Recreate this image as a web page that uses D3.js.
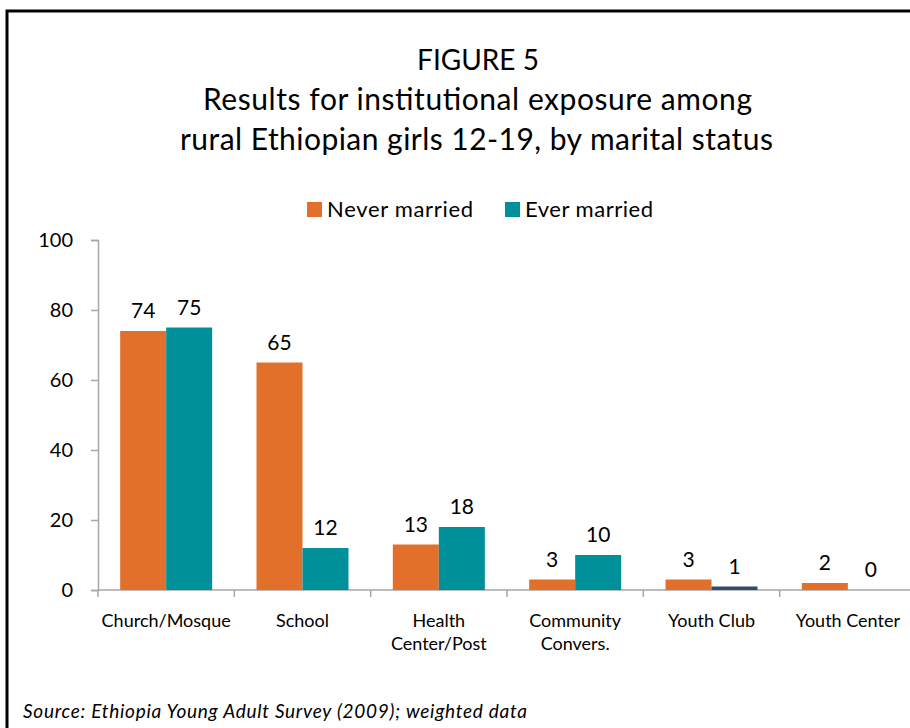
<!DOCTYPE html>
<html><head><meta charset="utf-8">
<script src="https://cdn.jsdelivr.net/npm/d3@7"></script>
<style>body{margin:0;background:#fff;} svg{display:block;}</style>
</head><body>
<svg id="c" width="910" height="728"></svg>
<script>
const categories = [["Church/Mosque"], ["School"], ["Health", "Center/Post"], ["Community", "Convers."], ["Youth Club"], ["Youth Center"]];
const seriesNames = ["Never married", "Ever married"];
const neverMarried = [74, 65, 13, 3, 3, 2];
const everMarried = [75, 12, 18, 10, 1, 0];
const yTicks = [0, 20, 40, 60, 80, 100];
const titleLines = ["FIGURE 5", "Results for institutional exposure among", "rural Ethiopian girls 12-19, by marital status"];
const sourceText = "Source:  Ethiopia Young Adult Survey (2009); weighted data";

const colors = ["#E2702A", "#009099"];
const specialColor = "#2F4B6E"; // Youth Club ever-married bar
const font = "Lato, 'Open Sans', sans-serif";

const svg = d3.select("#c");
svg.append("rect").attr("x", 7).attr("y", 11).attr("width", 1000).attr("height", 1000)
  .attr("fill", "none").attr("stroke", "#000").attr("stroke-width", 3);

const y = d3.scaleLinear().domain([0, 100]).range([590, 240]);
const keys = categories.map((c, i) => i);
const x = d3.scaleBand().domain(keys).range([98, 916]).padding(0);
const xs = d3.scaleBand().domain([0, 1]).range([0, x.bandwidth()]).paddingInner(0).paddingOuter(0.482);

// title
const titleStyle = [{size: 28, len: null, cx: 478}, {size: 30, len: 549, cx: 477.5}, {size: 30, len: 593, cx: 476.5}];
svg.append("g").selectAll("text").data(titleLines).join("text")
  .attr("x", (d, i) => titleStyle[i].cx).attr("y", (d, i) => 70 + i * 40)
  .attr("text-anchor", "middle").attr("font-family", font).attr("font-size", (d, i) => titleStyle[i].size).attr("fill", "#000")
  .each(function(d, i) { if (titleStyle[i].len) d3.select(this).attr("textLength", titleStyle[i].len).attr("lengthAdjust", "spacing"); })
  .text(d => d);

// legend
const leg = svg.append("g");
const legX = [307, 505];
const legLen = [146, 128];
seriesNames.forEach((n, i) => {
  leg.append("rect").attr("x", legX[i]).attr("y", 202).attr("width", 15).attr("height", 15).attr("fill", colors[i]);
  leg.append("text").attr("x", legX[i] + 20).attr("y", 217).attr("font-family", font).attr("font-size", 22)
    .attr("textLength", legLen[i]).attr("lengthAdjust", "spacing").text(n);
});

// y axis
const ya = svg.append("g").attr("transform", "translate(98,0)")
  .call(d3.axisLeft(y).tickValues(yTicks).tickSize(7).tickPadding(18));
ya.select(".domain").attr("stroke", "#A6A6A6").attr("stroke-width", 1.5);
ya.selectAll(".tick line").attr("stroke", "#A6A6A6").attr("stroke-width", 1.5);
ya.selectAll(".tick text").attr("font-family", font).attr("font-size", 20).attr("fill", "#000");

// x axis
const xa = svg.append("g").attr("transform", "translate(0,590)");
xa.append("line").attr("x1", 98).attr("x2", 916).attr("stroke", "#A6A6A6").attr("stroke-width", 1.5);
xa.selectAll("line.tk").data(keys.concat([keys.length])).join("line").attr("class", "tk")
  .attr("x1", d => d < keys.length ? x(d) : x(d - 1) + x.bandwidth())
  .attr("x2", d => d < keys.length ? x(d) : x(d - 1) + x.bandwidth())
  .attr("y1", 0).attr("y2", 7).attr("stroke", "#A6A6A6").attr("stroke-width", 1.5);
const cl = xa.selectAll("text").data(keys).join("text")
  .attr("x", d => x(d) + x.bandwidth() / 2).attr("y", 37)
  .attr("text-anchor", "middle").attr("font-family", font).attr("font-size", 18).attr("fill", "#000");
cl.each(function(d) {
  const t = d3.select(this);
  categories[d].forEach((line, j) => t.append("tspan").attr("x", x(d) + x.bandwidth() / 2).attr("dy", j === 0 ? 0 : 23).text(line));
});

// bars
const rows = [];
keys.forEach(k => {
  [neverMarried[k], everMarried[k]].forEach((v, s) => rows.push({k, s, v}));
});
const barColor = r => (r.k === 4 && r.s === 1) ? specialColor : colors[r.s];
svg.append("g").selectAll("rect").data(rows).join("rect")
  .attr("x", r => x(r.k) + xs(r.s)).attr("width", xs.bandwidth())
  .attr("y", r => y(r.v)).attr("height", r => y(0) - y(r.v))
  .attr("fill", barColor);
svg.append("g").selectAll("text").data(rows).join("text")
  .attr("x", r => x(r.k) + xs(r.s) + xs.bandwidth() / 2).attr("y", r => y(r.v) - 13)
  .attr("text-anchor", "middle").attr("font-family", font).attr("font-size", 21).attr("fill", "#000")
  .text(r => r.v);

// source
svg.append("text").attr("x", 23).attr("y", 718).attr("font-family", font).attr("font-style", "italic")
  .attr("font-size", 19).attr("textLength", 504).attr("lengthAdjust", "spacing").text(sourceText);
</script>
</body></html>
